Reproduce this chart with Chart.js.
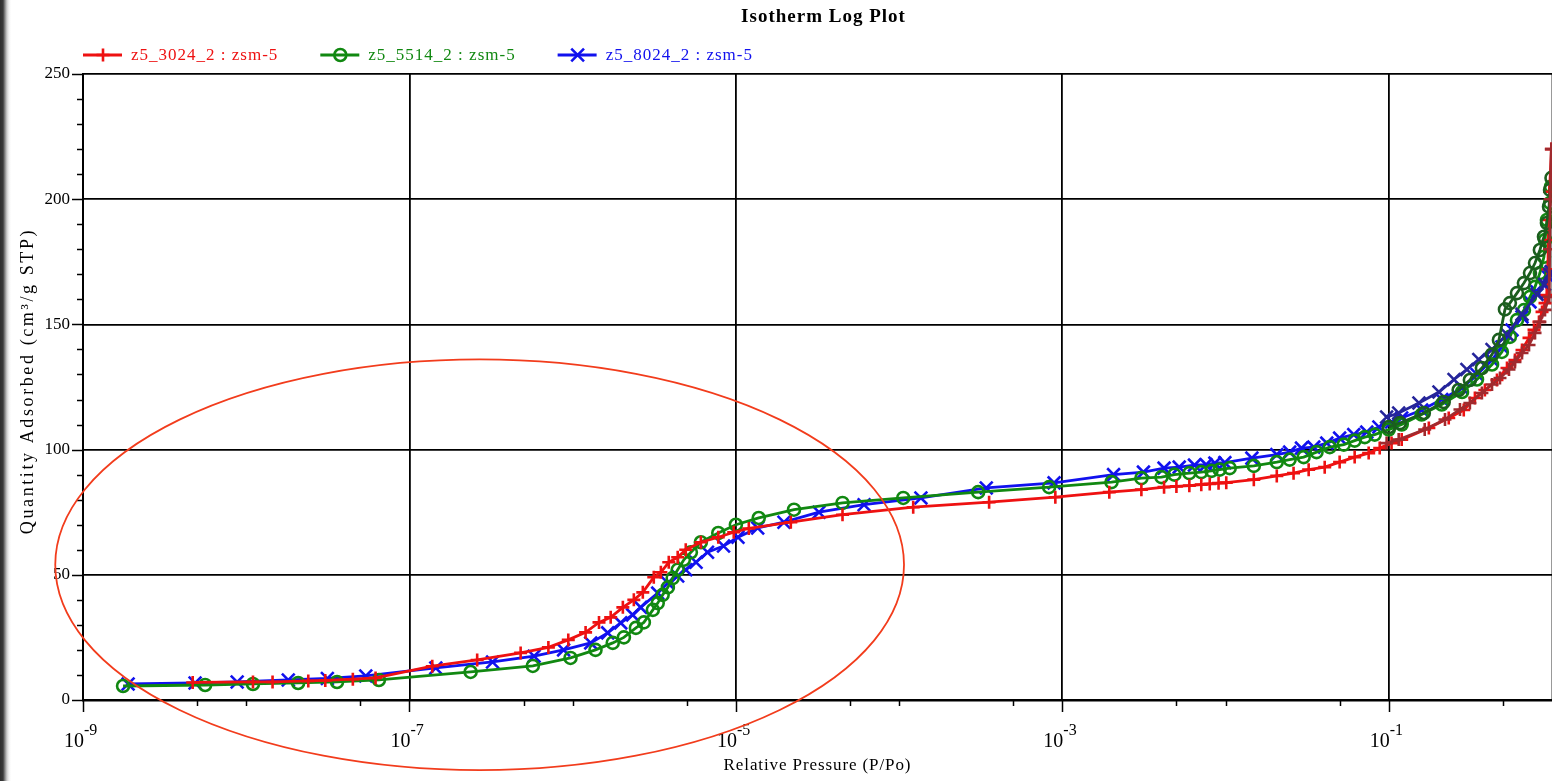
<!DOCTYPE html>
<html><head><meta charset="utf-8">
<script src="https://cdn.jsdelivr.net/npm/chart.js@4.4.1/dist/chart.umd.min.js"></script>
<style>
html,body{margin:0;padding:0;background:#fff;}
body{width:1552px;height:781px;overflow:hidden;position:relative;
background:linear-gradient(to right,#2e2e2e 0px,#3a3a3a 3px,#8a8a8a 5px,#d0d0d0 7px,#f2f2f2 9px,#fff 11px);}
#wrap{position:absolute;left:0;top:0;width:1552px;height:781px;}
</style></head><body>
<div id="wrap"><canvas id="c" width="1552" height="781"></canvas></div>
<script>
// ---------- DATA ----------
const chartTitle = "Isotherm Log Plot";
const xAxisTitle = "Relative Pressure (P/Po)";
const yAxisTitle = "Quantity Adsorbed (cm\u00B3/g STP)";
const seriesNames = ["z5_3024_2 : zsm-5", "z5_5514_2 : zsm-5", "z5_8024_2 : zsm-5"];

// [relative pressure, quantity adsorbed]
const redAdsorption = [[4.7e-9,7.0],[1.1e-8,7.2],[1.45e-8,7.2],[2.4e-8,7.6],[3.05e-8,7.8],[4.5e-8,8.3],[6.2e-8,8.8],[1.38e-7,13.5],[2.6e-7,16],[4.8e-7,18.8],[7.1e-7,21],[9.4e-7,24],[1.2e-6,27],[1.45e-6,31],[1.71e-6,33],[2.03e-6,37],[2.37e-6,40],[2.69e-6,43],[3.14e-6,49],[3.47e-6,51],[3.88e-6,55],[4.4e-6,57],[4.93e-6,60],[6.1e-6,63],[7.8e-6,65],[9.7e-6,67],[1.2e-5,68.5],[2.17e-5,71],[4.5e-5,74],[1.22e-4,77],[3.56e-4,79],[9.06e-4,81],[1.94e-3,83],[3.05e-3,84],[4.2e-3,85],[5.0e-3,85.3],[6.0e-3,85.6],[7.1e-3,86],[8.0e-3,86.3],[9.06e-3,86.6],[1.01e-2,86.8],[1.49e-2,88],[2.06e-2,89.5],[2.61e-2,90.6],[3.23e-2,92],[4.05e-2,93],[5.0e-2,95],[6.18e-2,97],[7.53e-2,98.6],[8.8e-2,100.6],[0.104,102.6],[0.120,104],[0.176,108.6],[0.233,112.6],[0.288,115.8],[0.337,120.6],[0.388,123.8],[0.460,127.8],[0.530,132.6],[0.593,135.8],[0.655,139.8],[0.723,144.6],[0.776,147.8],[0.832,151],[0.869,155],[0.906,158.5],[0.931,161.7],[0.944,172],[0.950,183.7],[0.959,191.7],[0.965,203],[0.993,220]];
const redDesorption = [[0.99,220],[0.975,200],[0.968,180],[0.962,161],[0.906,155.8],[0.843,151],[0.787,146.6],[0.723,141.8],[0.655,138.6],[0.593,135],[0.545,132],[0.480,128.6],[0.429,126],[0.372,122.6],[0.314,118.6],[0.273,116],[0.221,112],[0.166,108],[0.115,104],[0.097,102.6]];
const greenAdsorption = [[1.76e-9,5.6],[5.6e-9,6.0],[1.1e-8,6.4],[2.08e-8,6.8],[3.6e-8,7.2],[6.5e-8,8.0],[2.37e-7,11.2],[5.7e-7,13.6],[9.7e-7,16.8],[1.38e-6,20],[1.76e-6,22.8],[2.06e-6,25],[2.44e-6,28.8],[2.73e-6,31],[3.1e-6,36],[3.32e-6,38.7],[3.56e-6,42],[3.83e-6,45],[4.1e-6,48.7],[4.4e-6,52],[4.8e-6,56],[5.3e-6,59],[6.1e-6,63],[7.8e-6,66.7],[1.0e-5,70],[1.38e-5,72.7],[2.27e-5,76],[4.5e-5,78.7],[1.06e-4,80.7],[3.05e-4,83],[8.3e-4,85],[2.0e-3,87],[3.05e-3,88.6],[4.05e-3,89],[4.86e-3,90],[6.0e-3,90.6],[7.1e-3,91],[8.2e-3,91.5],[9.2e-3,92],[1.06e-2,92.6],[1.49e-2,93.5],[2.06e-2,95],[2.47e-2,96],[3.01e-2,97],[3.61e-2,99],[4.35e-2,101],[5.3e-2,102],[6.18e-2,103.6],[7.13e-2,105],[8.2e-2,106],[0.1,108],[0.12,110],[0.159,114],[0.211,118],[0.281,123],[0.347,128],[0.429,134],[0.493,139],[0.552,145],[0.61,151.7],[0.673,155.7],[0.733,161],[0.787,165],[0.843,170.5],[0.893,177],[0.906,183.7],[0.931,191.7],[0.973,198.5],[0.986,205]];
const greenDesorption = [[0.993,208.5],[0.973,203.7],[0.959,197],[0.931,190.5],[0.893,185],[0.843,179.7],[0.787,174.5],[0.733,170.5],[0.673,166.5],[0.61,162.5],[0.552,158.5],[0.515,156],[0.473,143.8],[0.429,138],[0.372,132.6],[0.314,127.8],[0.268,123.8],[0.217,119],[0.164,114.6],[0.117,110.6],[0.1,109]];
const blueAdsorption = [[1.89e-9,6.4],[4.86e-9,6.8],[8.8e-9,7.2],[1.81e-8,8.0],[3.14e-8,8.6],[5.4e-8,9.6],[1.45e-7,12.8],[3.23e-7,15.2],[5.8e-7,17.5],[8.8e-7,20],[1.29e-6,22.8],[1.64e-6,26.8],[1.97e-6,30.8],[2.33e-6,34],[2.61e-6,37],[3.32e-6,42.7],[3.83e-6,46.7],[4.4e-6,49.5],[4.93e-6,52],[5.7e-6,55],[6.7e-6,59],[8.4e-6,61.5],[1.03e-5,65],[1.36e-5,68.7],[1.97e-5,71],[3.23e-5,75],[6.1e-5,78],[1.36e-4,80.7],[3.42e-4,84.7],[8.9e-4,86.7],[2.06e-3,90],[3.14e-3,91],[4.2e-3,92.6],[5.2e-3,93],[6.45e-3,93.8],[7.6e-3,94],[8.6e-3,94.6],[9.9e-3,94.8],[1.45e-2,96.6],[2.06e-2,98],[2.47e-2,99],[2.92e-2,100.6],[3.47e-2,101],[4.17e-2,102.6],[5.0e-2,104.6],[6.1e-2,106],[7.33e-2,107],[8.7e-2,109],[0.104,111],[0.12,112.6],[0.159,115.8],[0.211,120],[0.281,124.6],[0.347,130],[0.429,135.8],[0.493,141],[0.569,147.8],[0.655,153],[0.733,159],[0.809,163],[0.88,166],[0.95,169],[0.99,171]];
const blueDesorption = [[0.99,171],[0.97,170],[0.9,166],[0.81,162],[0.655,154],[0.53,146],[0.429,140],[0.356,136],[0.301,132],[0.251,128],[0.203,123],[0.153,118.6],[0.115,114.6],[0.097,113]];

// axis ticks
const xMin = 1e-9, xMax = 1;
const xTickExponents = [-9,-8,-7,-6,-5,-4,-3,-2,-1];
const xTickMultipliers = [1,5];
const xLabelExponents = [-9,-7,-5,-3,-1];
const yMin = 0, yMax = 250, yMinorStep = 10, yMajorStep = 50;

// annotation ellipse (in data units: log10 pressure, quantity)
const ellipseCenterLogP = -6.57, ellipseHalfWidthDecades = 2.6;
const ellipseCenterQ = 54, ellipseHalfHeightQ = 82;

// ---------- STYLE ----------
const FONT = "'Liberation Serif','Times New Roman',serif";
const COL = {red:'#ee1111', green:'#118811', blue:'#1111ee', dred:'#a02a2e', dgreen:'#1b5e1e', dblue:'#25259a'};

const xTickValues = [];
xTickExponents.forEach(e => xTickMultipliers.forEach(m => xTickValues.push(m * Math.pow(10, e))));
const expOf = v => { const l = Math.log10(v); const r = Math.round(l); return Math.abs(l - r) < 1e-6 ? r : null; };
const isLabelled = v => { const e = expOf(v); return e !== null && xLabelExponents.includes(e); };
const toXY = arr => arr.map(p => ({x: p[0], y: p[1]}));

function ds(label, data, color, style, radius, order, legend) {
  return {label, data: toXY(data), borderColor: color, backgroundColor: color,
    pointStyle: style, pointRadius: radius, pointHoverRadius: radius, pointBorderWidth: 2.6,
    pointBorderColor: color, pointBackgroundColor: 'rgba(0,0,0,0)',
    borderWidth: 2.8, tension: 0, fill: false, order, showInLegend: legend};
}

const datasets = [
  ds(seriesNames[0], redAdsorption, COL.red, 'cross', 6.5, 3, true),
  ds(seriesNames[1], greenAdsorption, COL.green, 'circle', 6, 4, true),
  ds(seriesNames[2], blueAdsorption, COL.blue, 'crossRot', 9, 5, true),
  ds(seriesNames[0] + ' (des)', redDesorption, COL.dred, 'cross', 6.5, 0, false),
  ds(seriesNames[1] + ' (des)', greenDesorption, COL.dgreen, 'circle', 6, 1, false),
  ds(seriesNames[2] + ' (des)', blueDesorption, COL.dblue, 'crossRot', 9, 2, false),
];

function spaced(ctx, px) { if ('letterSpacing' in ctx) ctx.letterSpacing = px + 'px'; }

const decor = {
  id: 'decor',
  afterDraw(chart) {
    const {ctx, chartArea: a, scales: {x, y}} = chart;
    ctx.save();
    // tick marks
    ctx.strokeStyle = '#000'; ctx.lineWidth = 1.5;
    xTickValues.forEach(v => {
      if (v >= xMax) return;
      const px = Math.round(x.getPixelForValue(v)) + 0.5;
      const len = isLabelled(v) ? 12 : 6;
      ctx.beginPath(); ctx.moveTo(px, a.bottom); ctx.lineTo(px, a.bottom + len); ctx.stroke();
    });
    for (let v = yMin; v <= yMax; v += yMinorStep) {
      const py = Math.round(y.getPixelForValue(v)) + 0.5;
      const len = v % yMajorStep === 0 ? 11 : 6;
      ctx.beginPath(); ctx.moveTo(a.left - len, py); ctx.lineTo(a.left, py); ctx.stroke();
    }
    // x tick labels: 10 with superscript exponent
    ctx.fillStyle = '#000'; ctx.textBaseline = 'alphabetic';
    xTickValues.forEach(v => {
      if (!isLabelled(v)) return;
      const px = x.getPixelForValue(v);
      ctx.font = '20px ' + FONT; ctx.textAlign = 'right';
      ctx.fillText('10', px + 1, 747);
      ctx.font = '16px ' + FONT; ctx.textAlign = 'left';
      ctx.fillText(String(expOf(v)), px + 1, 735);
    });
    // ellipse annotation
    const cx = x.getPixelForValue(Math.pow(10, ellipseCenterLogP));
    const rx = x.getPixelForValue(Math.pow(10, ellipseCenterLogP + ellipseHalfWidthDecades)) - cx;
    const cy = y.getPixelForValue(ellipseCenterQ);
    const ry = y.getPixelForValue(ellipseCenterQ - ellipseHalfHeightQ) - cy;
    ctx.strokeStyle = '#f23c1c'; ctx.lineWidth = 1.8;
    ctx.beginPath(); ctx.ellipse(cx, cy, rx, ry, 0, 0, Math.PI * 2); ctx.stroke();
    // title
    ctx.fillStyle = '#000'; ctx.font = 'bold 19px ' + FONT; spaced(ctx, 1);
    ctx.textAlign = 'center'; ctx.textBaseline = 'middle';
    ctx.fillText(chartTitle, (a.left + a.right) / 2 + 6, 17);
    // x axis title
    ctx.font = '17px ' + FONT; spaced(ctx, 0.9);
    ctx.fillText(xAxisTitle, (a.left + a.right) / 2, 766);
    // y axis title
    ctx.save();
    ctx.translate(28, (a.top + a.bottom) / 2 - 6); ctx.rotate(-Math.PI / 2);
    ctx.font = '18px ' + FONT; spaced(ctx, 2.6);
    ctx.fillText(yAxisTitle, 0, 0);
    ctx.restore();
    // legend
    let lx = a.left; const ly = 55;
    ctx.font = '17px ' + FONT; ctx.textAlign = 'left'; spaced(ctx, 1);
    chart.data.datasets.forEach(d => {
      if (!d.showInLegend) return;
      ctx.strokeStyle = d.borderColor; ctx.lineWidth = 2.8;
      ctx.beginPath(); ctx.moveTo(lx, ly); ctx.lineTo(lx + 39, ly); ctx.stroke();
      ctx.lineWidth = 2.6; ctx.fillStyle = 'rgba(0,0,0,0)';
      Chart.helpers.drawPoint(ctx, {pointStyle: d.pointStyle, radius: d.pointRadius, borderWidth: 2.6, rotation: 0}, lx + 20, ly);
      ctx.fillStyle = d.borderColor;
      ctx.fillText(d.label, lx + 48, ly + 1);
      lx += 48 + ctx.measureText(d.label).width + 42;
    });
    ctx.restore();
  }
};

new Chart(document.getElementById('c'), {
  type: 'line',
  data: {datasets},
  plugins: [decor],
  options: {
    responsive: false, animation: false, events: [],
    layout: {autoPadding: false, padding: {top: 74, left: 0, right: 0, bottom: 0}},
    plugins: {legend: {display: false}, title: {display: false}, tooltip: {enabled: false}},
    scales: {
      x: {
        type: 'logarithmic', min: xMin, max: xMax,
        afterBuildTicks: s => { s.ticks = xTickValues.concat([xMax]).map(v => ({value: v})); },
        afterFit: s => { s.height = 81; s.paddingLeft = 0; s.paddingRight = 0; },
        ticks: {autoSkip: false, maxRotation: 0, padding: 0, callback: () => ''},
        grid: {drawTicks: false, lineWidth: 1.8,
          color: c => (c.tick && isLabelled(c.tick.value)) ? '#000' : (c.tick && c.tick.value >= xMax ? '#999' : 'rgba(0,0,0,0)')},
        border: {display: true, color: '#000', width: 2.5},
        title: {display: false}
      },
      y: {
        min: yMin, max: yMax,
        afterBuildTicks: s => { const t = []; for (let v = yMin; v <= yMax; v += yMinorStep) t.push({value: v}); s.ticks = t; },
        afterFit: s => { s.width = 83; },
        ticks: {autoSkip: false, padding: 13, color: '#000', font: {family: FONT, size: 17},
          callback: v => v % yMajorStep === 0 ? String(v) : ''},
        grid: {drawTicks: false, lineWidth: 1.8,
          color: c => (c.tick && c.tick.value % yMajorStep === 0) ? '#000' : 'rgba(0,0,0,0)'},
        border: {display: true, color: '#000', width: 2},
        title: {display: false}
      }
    }
  }
});
</script>
</body></html>
